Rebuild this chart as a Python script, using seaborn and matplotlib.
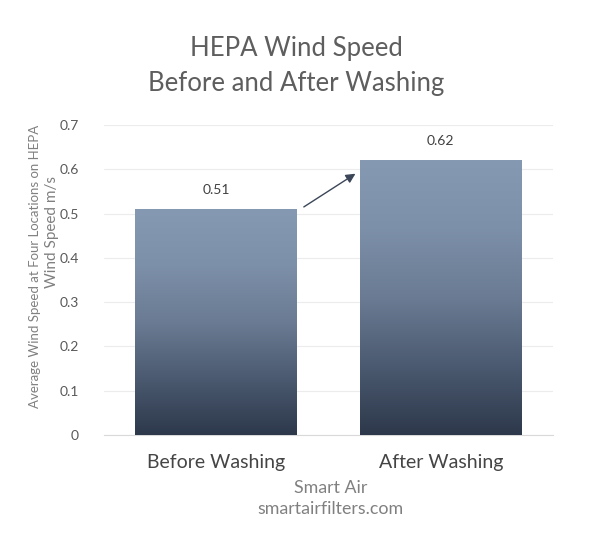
import numpy as np
import pandas as pd
import seaborn as sns
import matplotlib.pyplot as plt
from matplotlib.colors import LinearSegmentedColormap

# chart data
conditions = ["Before Washing", "After Washing"]
wind_speed = [0.51, 0.62]
y_ticks = [0, 0.1, 0.2, 0.3, 0.4, 0.5, 0.6, 0.7]
tick_labels = ["0", "0.1", "0.2", "0.3", "0.4", "0.5", "0.6", "0.7"]

sns.set_style("white")
plt.rcParams['font.family'] = ['Lato', 'DejaVu Sans']

df = pd.DataFrame({'condition': conditions, 'speed': wind_speed})

fig = plt.figure(figsize=(6.02, 5.48), dpi=100)
ax = fig.add_axes([0.1728, 0.2062, 0.7458, 0.5657])

width = 0.72
sns.barplot(data=df, x='condition', y='speed', color='#8599b3', width=width,
            ax=ax, zorder=2)

# gradient fill clipped to each bar (dark at the base, light at the top)
grad = LinearSegmentedColormap.from_list(
    'g', [(0, '#2d384b'), (0.25, '#4b5a70'), (0.5, '#6a7b93'),
          (0.75, '#7d90a9'), (1, '#8699b2')])
ax.set_ylim(0, 0.7)
ax.set_xlim(-0.5, 1.5)
for p in ax.patches:
    x0, y0 = p.get_x(), p.get_y()
    w, h = p.get_width(), p.get_height()
    img = ax.imshow(np.linspace(0, 1, 256).reshape(-1, 1), cmap=grad,
                    origin='lower', aspect='auto',
                    extent=[x0, x0 + w, y0, y0 + h], zorder=3)
    img.set_clip_path(p)
    p.set_facecolor('none')
    p.set_edgecolor('none')
ax.set_xlim(-0.5, 1.5)
ax.set_ylim(0, 0.7)

# value labels
for i, v in enumerate(wind_speed):
    ax.annotate(f"{v:.2f}", (i, v), xytext=(0, 14), textcoords='offset points',
                ha='center', va='center', fontsize=10, color='#404040')

# arrow between bars
ax.annotate("", xy=(1 - width / 2 - 0.02, wind_speed[1] - 0.03),
            xytext=(width / 2 + 0.03, wind_speed[0] + 0.005),
            arrowprops=dict(arrowstyle='-|>', color='#3b4658', lw=1,
                            mutation_scale=14, shrinkA=0, shrinkB=0),
            zorder=4)

ax.set_yticks(y_ticks)
ax.set_yticklabels(tick_labels, fontsize=10, color='#595959')
ax.tick_params(axis='y', length=0, pad=18)
ax.tick_params(axis='x', length=0, pad=14, labelsize=14, labelcolor='#454545')
ax.grid(axis='y', color='#ececec', lw=0.8, zorder=0)
ax.set_axisbelow(True)
for s in ['top', 'right', 'left']:
    ax.spines[s].set_visible(False)
ax.spines['bottom'].set_color('#d9d9d9')
ax.set_xlabel("")
ax.set_ylabel("")

fig.text(0.492, 0.912, "HEPA Wind Speed", ha='center', va='center',
         fontsize=18.5, color='#5e5e5e')
fig.text(0.492, 0.848, "Before and After Washing", ha='center', va='center',
         fontsize=18.5, color='#5e5e5e')

fig.text(0.058, 0.514, "Average Wind Speed at Four Locations on HEPA",
         rotation=90, ha='center', va='center', fontsize=9.5, color='#808080')
fig.text(0.087, 0.577, "Wind Speed m/s", rotation=90, ha='center',
         va='center', fontsize=11, color='#808080')

fig.text(0.549, 0.109, "Smart Air", ha='center', va='center', fontsize=12.8,
         color='#808080')
fig.text(0.549, 0.072, "smartairfilters.com", ha='center', va='center',
         fontsize=12.8, color='#808080')

fig.savefig('out.png', dpi=100)
